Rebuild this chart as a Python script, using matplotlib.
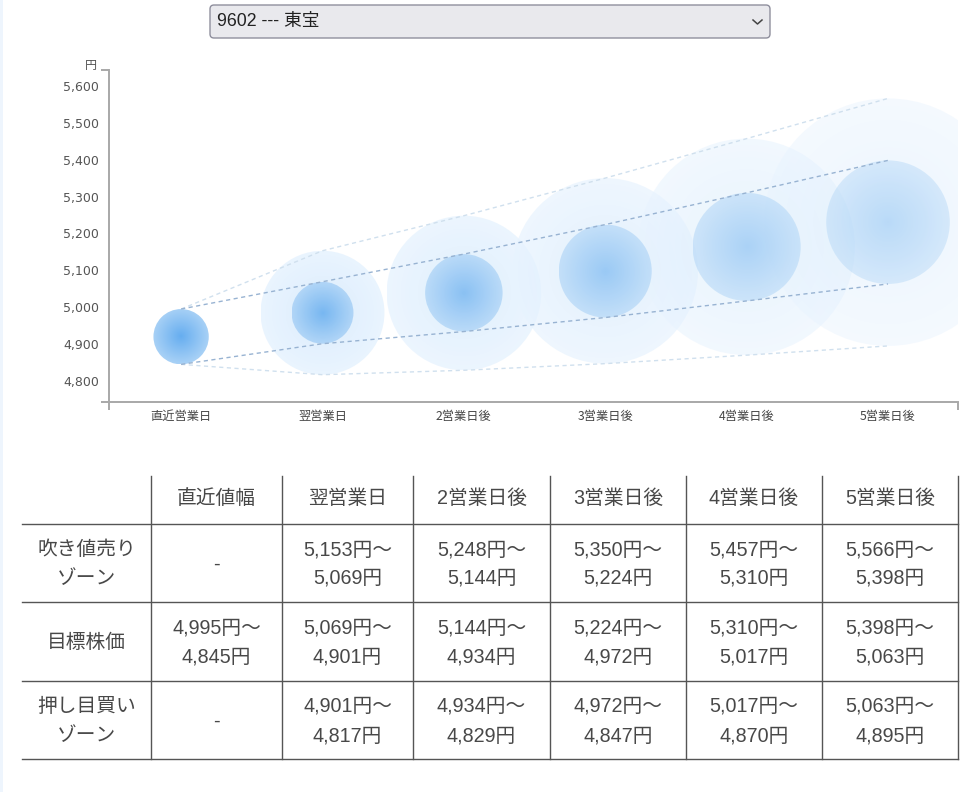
import numpy as np
from matplotlib import pyplot as plt
from matplotlib.patches import Ellipse, FancyBboxPatch, Rectangle

# ---- data ----
stock_name = "9602 --- 東宝"
days = ["直近営業日", "翌営業日", "2営業日後", "3営業日後", "4営業日後", "5営業日後"]
table_cols = ["直近値幅", "翌営業日", "2営業日後", "3営業日後", "4営業日後", "5営業日後"]
row_names = ["吹き値売り\nゾーン", "目標株価", "押し目買い\nゾーン"]
target_hi = [4995, 5069, 5144, 5224, 5310, 5398]
target_lo = [4845, 4901, 4934, 4972, 5017, 5063]
sell_hi = [None, 5153, 5248, 5350, 5457, 5566]
buy_lo = [None, 4817, 4829, 4847, 4870, 4895]
y_ticks = [4800, 4900, 5000, 5100, 5200, 5300, 5400, 5500, 5600]

W, H = 977, 792
plt.rcParams["font.family"] = ["DejaVu Sans", "Noto Sans CJK JP"]
fig = plt.figure(figsize=(W / 100, H / 100), dpi=100)
fig.patch.set_facecolor("white")

# overlay in pixel coordinates for page elements (dropdown, table)
pg = fig.add_axes([0, 0, 1, 1])
pg.set_xlim(0, W)
pg.set_ylim(H, 0)
pg.axis("off")

pg.add_patch(Rectangle((0, 0), 3, H, color="#eef5fd", lw=0))
pg.add_patch(FancyBboxPatch((210, 5), 560, 33, boxstyle="round,pad=0,rounding_size=4",
                            facecolor="#e9e9ed", edgecolor="#8f8f9d", lw=1))
pg.text(217, 21.5, stock_name, fontsize=12.8, color="#222222", va="center", ha="left",
        family=["Liberation Sans", "Noto Sans CJK JP"])
pg.plot([753, 757.5, 762], [20, 24, 20], color="#444444", lw=1.1)

# ---- chart ----
left, right, top, bottom = 109, 958, 70, 402
ax = fig.add_axes([left / W, 1 - bottom / H, (right - left) / W, (bottom - top) / H])
x0, x1 = -0.51, 5.495
y0, y1 = 4743, 5643
px_x = (right - left) / (x1 - x0)
px_y = (bottom - top) / (y1 - y0)

n = 200
gy, gx = np.mgrid[-1:1:n * 1j, -1:1:n * 1j]
rad = np.clip(np.hypot(gx, gy), 0, 1)


def bubble(x, lo, hi, c_in, c_out, alpha, z):
    cy = (lo + hi) / 2
    h = hi - lo
    w = h * px_y / px_x
    ell = Ellipse((x, cy), w, h, transform=ax.transData)
    img = np.zeros((n, n, 4))
    for k in range(3):
        img[..., k] = c_in[k] + (c_out[k] - c_in[k]) * rad
    img[..., 3] = alpha
    im = ax.imshow(img, extent=(x - w / 2, x + w / 2, cy - h / 2, cy + h / 2),
                   origin="lower", interpolation="bilinear", aspect="auto", zorder=z)
    im.set_clip_path(ell)


inner_alpha = [1.0, 0.85, 0.7, 0.58, 0.47, 0.38]
outer_alpha = [1.0, 0.9, 0.8, 0.7, 0.56, 0.45]
xs = np.arange(len(days))
for i in xs:
    if sell_hi[i] is not None:
        bubble(i, buy_lo[i], sell_hi[i], (0.84, 0.92, 0.99), (0.91, 0.955, 1.0), outer_alpha[i], 1)
for i in xs:
    bubble(i, target_lo[i], target_hi[i], (0.40, 0.68, 0.94), (0.66, 0.82, 0.965), inner_alpha[i], 2)

outer_hi = [target_hi[0]] + sell_hi[1:]
outer_lo = [target_lo[0]] + buy_lo[1:]
ax.plot(xs, outer_hi, color="#d0e0ee", lw=1, dashes=(3, 2.5), zorder=3)
ax.plot(xs, outer_lo, color="#d0e0ee", lw=1, dashes=(3, 2.5), zorder=3)
ax.plot(xs, target_hi, color="#98b3d2", lw=1, dashes=(3, 2.5), zorder=3)
ax.plot(xs, target_lo, color="#98b3d2", lw=1, dashes=(3, 2.5), zorder=3)

ax.set_xlim(x0, x1)
ax.set_ylim(y0, y1)
for s in ["top", "right"]:
    ax.spines[s].set_visible(False)
for s in ["left", "bottom"]:
    ax.spines[s].set_color("#a8a8a8")
    ax.spines[s].set_linewidth(1.4)
ax.set_yticks(y_ticks)
ax.set_yticklabels([f"{v:,}" for v in y_ticks])
ax.set_xticks(xs)
ax.set_xticklabels(days, family="Noto Sans CJK JP")
ax.tick_params(axis="y", length=0, pad=7, labelsize=9, labelcolor="#555555")
ax.tick_params(axis="x", length=0, pad=6, labelsize=8.8, labelcolor="#444444")
ax.set_yticks([y0, y1], minor=True)
ax.set_xticks([x0, x1], minor=True)
ax.tick_params(which="minor", length=6, width=1.4, color="#a8a8a8")
pg.text(91, 65.5, "円", fontsize=8.7, color="#555555", ha="center", va="center",
        family="Noto Sans CJK JP")

# ---- table ----
col_edges = [22, 151, 282, 413, 550, 686, 822, 958]
row_edges = [474, 524, 602, 681, 759]
tcol = "#555555"
for yv in row_edges[1:]:
    pg.plot([col_edges[0], col_edges[-1]], [yv, yv], color=tcol, lw=1)
for xv in col_edges[1:]:
    pg.plot([xv, xv], [row_edges[0] + 2, row_edges[-1]], color=tcol, lw=1)

tfont = dict(fontsize=14.2, color="#484848", ha="center", va="center",
             family=["Liberation Sans", "Noto Sans CJK JP"])
ccx = [(col_edges[j] + col_edges[j + 1]) / 2 for j in range(len(col_edges) - 1)]
rcy = [(row_edges[j] + row_edges[j + 1]) / 2 for j in range(len(row_edges) - 1)]


def cell(cx, cy, lines):
    off = 14.5 * (len(lines) - 1)
    for k, t in enumerate(lines):
        pg.text(cx, cy - off + 29 * k, t, **tfont)


for j, name in enumerate(table_cols):
    cell(ccx[j + 1], rcy[0], [name])

rows = []
for i in xs:
    sell = "-" if sell_hi[i] is None else [f"{sell_hi[i]:,}円～", f"{target_hi[i]:,}円"]
    tgt = [f"{target_hi[i]:,}円～", f"{target_lo[i]:,}円"]
    buy = "-" if buy_lo[i] is None else [f"{target_lo[i]:,}円～", f"{buy_lo[i]:,}円"]
    rows.append([sell, tgt, buy])

for r, name in enumerate(row_names):
    cell(ccx[0], rcy[r + 1] + 1, name.split("\n"))
    for i in xs:
        v = rows[i][r]
        cell(ccx[i + 1], rcy[r + 1] + 1, [v] if isinstance(v, str) else v)

fig.savefig("out.png", dpi=100)
